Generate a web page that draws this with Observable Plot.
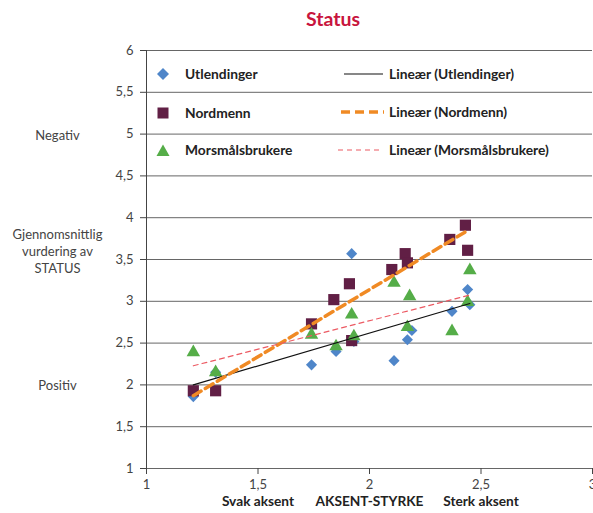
<!DOCTYPE html>
<html>
<head>
<meta charset="utf-8">
<script src="https://cdn.jsdelivr.net/npm/d3@7"></script>
<script src="https://cdn.jsdelivr.net/npm/@observablehq/plot@0.6"></script>
<style>
  html, body { margin: 0; padding: 0; background: #fff; }
  #wrap { position: relative; width: 593px; height: 513px; font-family: Lato, "Open Sans", sans-serif; }
  #title { position: absolute; top: 7px; left: 0; width: 666px; text-align: center; font-weight: 700; font-size: 19.5px; color: #c8153d; }
  .leg { position: absolute; font-weight: 700; font-size: 13.8px; color: #222; white-space: nowrap; line-height: 16px; }
  .leg svg { position: absolute; }
</style>
</head>
<body>
<div id="wrap">
  <div id="title">Status</div>
</div>
<script>
// Data
const seriesNames = ["Utlendinger", "Nordmenn", "Morsmålsbrukere"];
const utlX = [1.21, 1.31, 1.74, 1.85, 1.92, 1.93, 2.11, 2.17, 2.19, 2.37, 2.44, 2.45];
const utlY = [1.86, 2.15, 2.24, 2.40, 3.57, 2.52, 2.29, 2.54, 2.65, 2.88, 3.14, 2.96];
const norX = [1.21, 1.31, 1.74, 1.84, 1.91, 1.92, 2.10, 2.16, 2.17, 2.36, 2.43, 2.44];
const norY = [1.93, 1.93, 2.73, 3.02, 3.21, 2.53, 3.38, 3.57, 3.46, 3.74, 3.91, 3.61];
const morX = [1.21, 1.31, 1.74, 1.85, 1.92, 1.93, 2.11, 2.18, 2.17, 2.37, 2.45, 2.44];
const morY = [2.39, 2.15, 2.60, 2.46, 2.84, 2.58, 3.22, 3.06, 2.69, 2.64, 3.37, 2.99];
const yTicks = [1, 1.5, 2, 2.5, 3, 3.5, 4, 4.5, 5, 5.5, 6];
const xTicks = [1, 1.5, 2, 2.5, 3];
const sideLabels = [
  {y: 5, text: "Negativ"},
  {y: 3.61, text: "Gjennomsnittlig\nvurdering av\nSTATUS"},
  {y: 2, text: "Positiv"}
];
const xLabels = [
  {x: 1.5, text: "Svak aksent"},
  {x: 2, text: "AKSENT-STYRKE"},
  {x: 2.5, text: "Sterk aksent"}
];

const colors = {Utlendinger: "#4f86c9", Nordmenn: "#611f45", "Morsmålsbrukere": "#55ad48"};

const mk = (xs, ys, s) => xs.map((x, i) => ({series: s, x, y: ys[i]}));
const utl = mk(utlX, utlY, "Utlendinger");
const nor = mk(norX, norY, "Nordmenn");
const mor = mk(morX, morY, "Morsmålsbrukere");

const fmt = d => String(d).replace(".", ",");

const chart = Plot.plot({
  width: 593,
  height: 513,
  marginLeft: 146,
  marginRight: 1,
  marginTop: 50,
  marginBottom: 45,
  style: {fontFamily: "Lato, 'Open Sans', sans-serif", fontSize: "13px", color: "#444", background: "transparent", overflow: "visible"},
  x: {domain: [1, 3], ticks: xTicks, tickFormat: fmt, label: null},
  y: {domain: [1, 6], ticks: yTicks, tickFormat: fmt, label: null},
  marks: [
    Plot.gridY(yTicks.filter(d => d > 1), {stroke: "#555", strokeOpacity: 0.9, strokeWidth: 1}),
    Plot.ruleX([1], {stroke: "#444"}),
    Plot.ruleY([1], {stroke: "#666"}),
    Plot.axisY({ticks: yTicks, tickFormat: fmt, tickSize: 6, tickPadding: 7, label: null, stroke: "#444", fill: "#444", fontSize: 13}),
    Plot.axisX({ticks: xTicks, tickFormat: fmt, tickSize: 6, tickPadding: 5, label: null, stroke: "#444", fill: "#444", fontSize: 13}),
    Plot.dot(utl, {x: "x", y: "y", symbol: () => "diamond2", r: 5, fill: colors.Utlendinger, stroke: "none"}),
    Plot.dot(nor, {x: "x", y: "y", symbol: () => "square", r: 6.3, fill: colors.Nordmenn, stroke: "none"}),
    Plot.dot(mor, {x: "x", y: "y", symbol: () => "triangle", r: 5, fill: colors["Morsmålsbrukere"], stroke: "none"}),
    Plot.linearRegressionY(utl, {x: "x", y: "y", stroke: "#111", strokeWidth: 1.2, ci: 0}),
    Plot.linearRegressionY(nor, {x: "x", y: "y", stroke: "#f08a24", strokeWidth: 3.5, strokeDasharray: "9,5", ci: 0}),
    Plot.linearRegressionY(mor, {x: "x", y: "y", stroke: "#ec5a63", strokeWidth: 1.2, strokeDasharray: "5,4", ci: 0}),
    Plot.text(sideLabels, {y: "y", text: "text", frameAnchor: "left", dx: -89, textAnchor: "middle", fill: "#444", fontSize: 13, lineHeight: 1.3}),
    Plot.text(xLabels, {x: "x", text: "text", frameAnchor: "bottom", dy: 37, fill: "#222", fontWeight: "bold", fontSize: 13.7})
  ]
});
chart.style.position = "absolute";
chart.style.left = "0";
chart.style.top = "0";
const wrap = document.getElementById("wrap");
wrap.insertBefore(chart, wrap.firstChild);

// Legend overlay (inside plot area, as in the reference)
const legendItems = [
  {left: 185, top: 66, text: "Utlendinger", sym: `<svg width="14" height="14" style="left:-29px;top:1px"><path d="M7 1 L13 7 L7 13 L1 7Z" fill="${colors.Utlendinger}"/></svg>`},
  {left: 185, top: 105, text: "Nordmenn", sym: `<svg width="14" height="14" style="left:-29px;top:1px"><rect x="1.5" y="1.5" width="11" height="11" fill="${colors.Nordmenn}"/></svg>`},
  {left: 185, top: 142, text: "Morsmålsbrukere", sym: `<svg width="14" height="14" style="left:-29px;top:1px"><path d="M7 1.5 L13.5 13 L0.5 13Z" fill="${colors["Morsmålsbrukere"]}"/></svg>`},
  {left: 389, top: 66, text: "Lineær (Utlendinger)", sym: `<svg width="46" height="10" style="left:-48px;top:3px"><line x1="3" y1="5" x2="42" y2="5" stroke="#111" stroke-width="1.2"/></svg>`},
  {left: 389, top: 104, text: "Lineær (Nordmenn)", sym: `<svg width="46" height="10" style="left:-50px;top:3px"><line x1="2" y1="5" x2="45" y2="5" stroke="#f08a24" stroke-width="3.5" stroke-dasharray="9,5"/></svg>`},
  {left: 389, top: 142, text: "Lineær (Morsmålsbrukere)", sym: `<svg width="48" height="10" style="left:-52px;top:3px"><line x1="1" y1="5" x2="46" y2="5" stroke="#ec5a63" stroke-width="1.2" stroke-dasharray="5,4"/></svg>`}
];
for (const it of legendItems) {
  const d = document.createElement("div");
  d.className = "leg";
  d.style.left = it.left + "px";
  d.style.top = it.top + "px";
  d.innerHTML = it.sym + it.text;
  wrap.appendChild(d);
}
</script>
</body>
</html>
